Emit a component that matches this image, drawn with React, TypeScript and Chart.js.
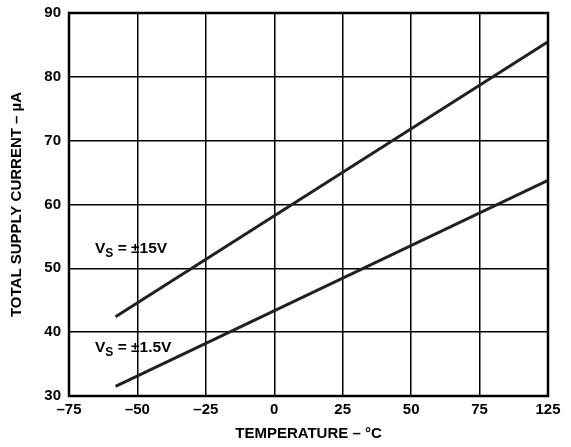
import React, { useEffect, useRef } from 'react';
import { Chart, registerables } from 'chart.js';

Chart.register(...registerables);

// Axis positions (the last gridline is labelled 125 in the original datasheet)
const temperaturePoints = [-58, 100];
const supplyCurrent15V = [42.4, 85.5];
const supplyCurrent1p5V = [31.5, 63.8];
const xTickValues = [-75, -50, -25, 0, 25, 50, 75, 100];
const xTickLabels = ['–75', '–50', '–25', '0', '25', '50', '75', '125'];
const yTickValues = [30, 40, 50, 60, 70, 80, 90];
const seriesNames = [
  { main: 'V', sub: 'S', rest: ' = ±15V' },
  { main: 'V', sub: 'S', rest: ' = ±1.5V' },
];

const FONT = "'Liberation Sans', Arial, Helvetica, sans-serif";
const INK = '#231f20';

export default function App() {
  const ref = useRef<HTMLCanvasElement | null>(null);

  useEffect(() => {
    if (!ref.current) return;

    const framePlugin = {
      id: 'frameAndLabels',
      afterDraw(chart: any) {
        const { ctx, chartArea, scales } = chart;
        ctx.save();
        ctx.strokeStyle = '#000';
        ctx.lineWidth = 2.5;
        ctx.strokeRect(
          chartArea.left,
          chartArea.top,
          chartArea.right - chartArea.left,
          chartArea.bottom - chartArea.top
        );
        // series labels
        const anchors = [
          { x: -65.5, y: 53.0 },
          { x: -65.5, y: 37.5 },
        ];
        ctx.fillStyle = '#000';
        ctx.textBaseline = 'middle';
        ctx.textAlign = 'left';
        seriesNames.forEach((s, i) => {
          let px = scales.x.getPixelForValue(anchors[i].x);
          const py = scales.y.getPixelForValue(anchors[i].y);
          ctx.font = `bold 15.5px ${FONT}`;
          ctx.fillText(s.main, px, py);
          px += ctx.measureText(s.main).width;
          ctx.font = `bold 12px ${FONT}`;
          ctx.fillText(s.sub, px, py + 4.5);
          px += ctx.measureText(s.sub).width;
          ctx.font = `bold 15.5px ${FONT}`;
          ctx.fillText(s.rest, px, py);
        });
        ctx.restore();
      },
    };

    const chart = new Chart(ref.current, {
      type: 'scatter',
      data: {
        datasets: [
          {
            label: 'VS = ±15V',
            data: temperaturePoints.map((t, i) => ({ x: t, y: supplyCurrent15V[i] })),
            showLine: true,
            borderColor: INK,
            borderWidth: 3,
            pointRadius: 0,
          },
          {
            label: 'VS = ±1.5V',
            data: temperaturePoints.map((t, i) => ({ x: t, y: supplyCurrent1p5V[i] })),
            showLine: true,
            borderColor: INK,
            borderWidth: 3,
            pointRadius: 0,
          },
        ],
      },
      options: {
        animation: false,
        responsive: false,
        devicePixelRatio: 1,
        layout: { padding: { top: 13, right: 23, left: 0, bottom: 0 } },
        plugins: {
          legend: { display: false },
          tooltip: { enabled: false },
        },
        scales: {
          x: {
            type: 'linear',
            min: -75,
            max: 100,
            afterBuildTicks: (s: any) => {
              s.ticks = xTickValues.map((v) => ({ value: v }));
            },
            afterFit: (s: any) => {
              s.height = 51;
              s.paddingLeft = 0;
              s.paddingRight = 0;
            },
            ticks: {
              autoSkip: false,
              maxRotation: 0,
              padding: 5,
              color: '#000',
              font: { family: FONT, size: 15, weight: 'bold' },
              callback: (v: any) => {
                const i = xTickValues.indexOf(Number(v));
                return i >= 0 ? xTickLabels[i] : '';
              },
            },
            grid: { color: '#000', lineWidth: 1.5, drawTicks: false },
            border: { display: false },
            title: {
              display: true,
              text: 'TEMPERATURE – °C',
              color: '#000',
              font: { family: FONT, size: 15, weight: 'bold' },
              padding: { top: 0, bottom: 4 },
            },
          },
          y: {
            type: 'linear',
            min: 30,
            max: 90,
            afterBuildTicks: (s: any) => {
              s.ticks = yTickValues.map((v) => ({ value: v }));
            },
            afterFit: (s: any) => {
              s.width = 69;
              s.paddingTop = 0;
              s.paddingBottom = 0;
            },
            ticks: {
              padding: 8,
              color: '#000',
              font: { family: FONT, size: 15, weight: 'bold' },
            },
            grid: { color: '#000', lineWidth: 1.5, drawTicks: false },
            border: { display: false },
            title: {
              display: true,
              text: 'TOTAL SUPPLY CURRENT – µA',
              color: '#000',
              font: { family: FONT, size: 15, weight: 'bold' },
              padding: { top: 8, bottom: 0 },
            },
          },
        },
      },
      plugins: [framePlugin],
    } as any);

    return () => chart.destroy();
  }, []);

  return (
    <div style={{ position: 'absolute', left: 0, top: 0, width: 571, height: 447, background: '#fff' }}>
      <canvas ref={ref} width={571} height={447} />
    </div>
  );
}
